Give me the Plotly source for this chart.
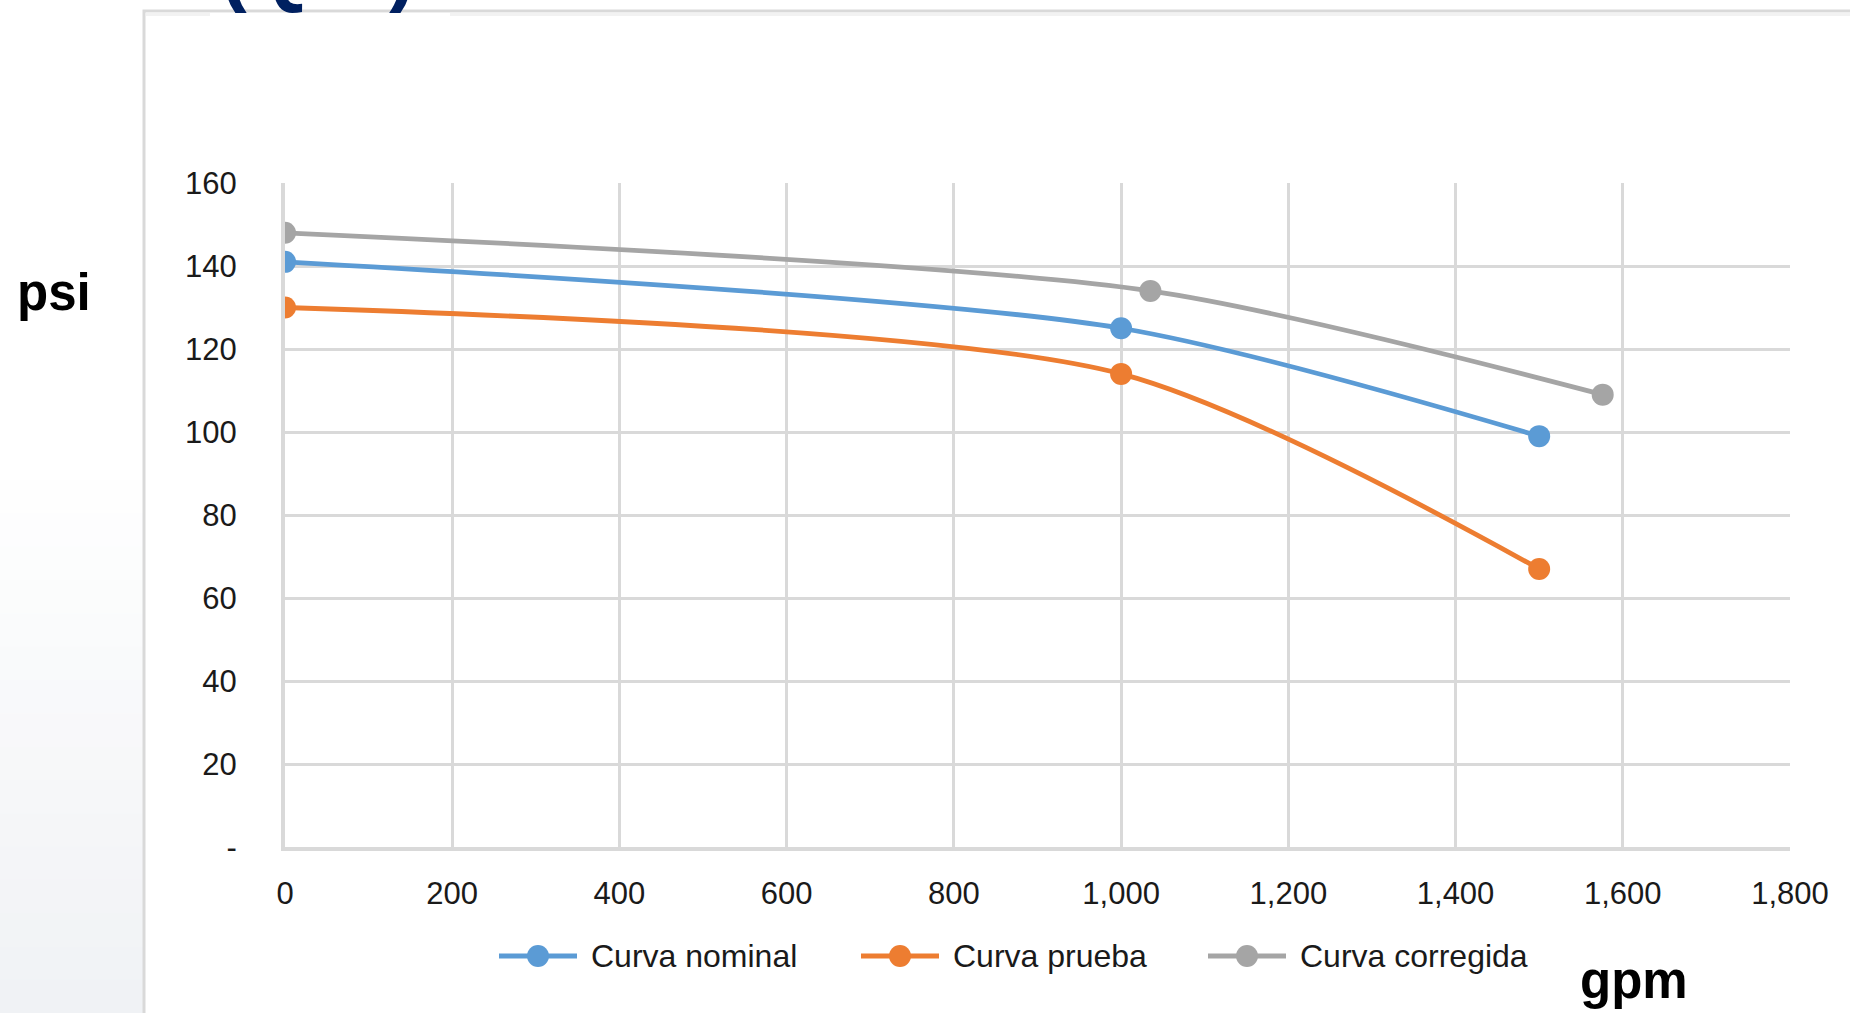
import plotly.graph_objects as go

# ---------------- data ----------------
series_names = ["Curva nominal", "Curva prueba", "Curva corregida"]
series_colors = ["#5B9BD5", "#ED7D31", "#A5A5A5"]

flow_nominal = [0, 1000, 1500]
psi_nominal = [141, 125, 99]

flow_prueba = [0, 1000, 1500]
psi_prueba = [130, 114, 67]

flow_corregida = [0, 1035, 1576]
psi_corregida = [148, 134, 109]

x_ticks = [0, 200, 400, 600, 800, 1000, 1200, 1400, 1600, 1800]
x_tick_labels = ["0", "200", "400", "600", "800", "1,000", "1,200", "1,400", "1,600", "1,800"]
y_ticks = [0, 20, 40, 60, 80, 100, 120, 140, 160]
y_tick_labels = ["-", "20", "40", "60", "80", "100", "120", "140", "160"]

title_text = "(Q/P)"
y_title = "psi"
x_title = "gpm"

# ---------------- layout geometry (pixels) ----------------
W, H = 1850, 1013
L, R, T, B = 285, 60, 183, 166
PW, PH = W - L - R, H - T - B


def px2x(px):
    return (px - L) / PW


def py2y(py):
    return (H - B - py) / PH


fig = go.Figure()
traces = [
    (flow_nominal, psi_nominal),
    (flow_prueba, psi_prueba),
    (flow_corregida, psi_corregida),
]
for (xs, ys), name, color in zip(traces, series_names, series_colors):
    fig.add_trace(go.Scatter(
        x=xs, y=ys, name=name, mode="lines+markers",
        line=dict(color=color, width=4.8, shape="spline", smoothing=0.75),
        marker=dict(color=color, size=22),
        showlegend=False,
    ))

shapes = []
# faint gradient on the left page background
n_bands = 16
band_top = 480
band_h = (H - band_top) / n_bands
for i in range(n_bands):
    t = (i + 1) / n_bands
    r = int(round(255 - t * 15))
    g = int(round(255 - t * 13))
    b = int(round(255 - t * 10))
    shapes.append(dict(type="rect", xref="paper", yref="paper", layer="below",
                       x0=px2x(-5), x1=px2x(143),
                       y0=py2y(band_top + (i + 1) * band_h + 0.5), y1=py2y(band_top + i * band_h),
                       fillcolor="rgb(%d,%d,%d)" % (r, g, b), line=dict(width=0)))
# chart frame
shapes.append(dict(type="rect", xref="paper", yref="paper", layer="below",
                   x0=px2x(144), x1=px2x(1870), y0=py2y(1030), y1=py2y(11),
                   fillcolor="white", line=dict(color="#D9D9D9", width=3)))
shapes.append(dict(type="rect", xref="paper", yref="paper", layer="below",
                   x0=px2x(146), x1=px2x(1870), y0=py2y(16), y1=py2y(12.5),
                   fillcolor="#F2F2F2", line=dict(width=0)))

annotations = []
# title (mostly cut off at top, as in the reference)
annotations.append(dict(text="<b>" + title_text + "</b>", xref="paper", yref="paper",
                        x=px2x(218), y=py2y(16), xanchor="left", yanchor="bottom",
                        showarrow=False, font=dict(family="Liberation Sans", size=82, color="#002060")))
# mask below frame top line
annotations.append(dict(text="", xref="paper", yref="paper",
                        x=px2x(210), y=py2y(12.8), xanchor="left", yanchor="top",
                        width=240, height=30, bgcolor="white", showarrow=False, borderpad=0,
                        borderwidth=0))
annotations.append(dict(text="<b>" + y_title + "</b>", xref="paper", yref="paper",
                        x=px2x(54), y=py2y(292), xanchor="center", yanchor="middle",
                        showarrow=False, font=dict(family="Liberation Sans", size=51, color="#000000")))
annotations.append(dict(text="<b>" + x_title + "</b>", xref="paper", yref="paper",
                        x=px2x(1634), y=py2y(980), xanchor="center", yanchor="middle",
                        showarrow=False, font=dict(family="Liberation Sans", size=51, color="#000000")))

# custom legend
legend_centers = [538, 900, 1247]
legend_y = 956
for name, color, cx in zip(series_names, series_colors, legend_centers):
    shapes.append(dict(type="line", xref="paper", yref="paper", layer="above",
                       x0=px2x(cx - 39), x1=px2x(cx + 39), y0=py2y(legend_y), y1=py2y(legend_y),
                       line=dict(color=color, width=4.8)))
    shapes.append(dict(type="circle", xref="paper", yref="paper", layer="above",
                       x0=px2x(cx - 11), x1=px2x(cx + 11), y0=py2y(legend_y + 11), y1=py2y(legend_y - 11),
                       fillcolor=color, line=dict(color=color, width=0)))
    annotations.append(dict(text=name, xref="paper", yref="paper",
                            x=px2x(cx + 51), y=py2y(legend_y), xanchor="left", yanchor="middle",
                            showarrow=False, font=dict(family="Liberation Sans", size=32, color="#1a1a1a")))

fig.update_layout(
    width=W, height=H,
    margin=dict(l=L, r=R, t=T, b=B, pad=0),
    paper_bgcolor="white", plot_bgcolor="white",
    shapes=shapes, annotations=annotations,
    showlegend=False,
    xaxis=dict(range=[0, 1800], tickvals=x_ticks, ticktext=x_tick_labels,
               showgrid=True, gridcolor="#D9D9D9", gridwidth=3,
               showline=True, linecolor="#D9D9D9", linewidth=4,
               zeroline=False, ticks="", ticklabelstandoff=16,
               tickfont=dict(family="Liberation Sans", size=31, color="#1a1a1a")),
    yaxis=dict(range=[0, 160], tickvals=y_ticks, ticktext=y_tick_labels,
               showgrid=True, gridcolor="#D9D9D9", gridwidth=3,
               showline=True, linecolor="#D9D9D9", linewidth=4,
               zeroline=False, ticks="", ticklabelstandoff=38,
               tickfont=dict(family="Liberation Sans", size=31, color="#1a1a1a")),
)

fig.write_html("out.html",
               config={"displayModeBar": False},
               post_script="document.body.style.margin='0px';document.body.style.overflow='hidden';")
